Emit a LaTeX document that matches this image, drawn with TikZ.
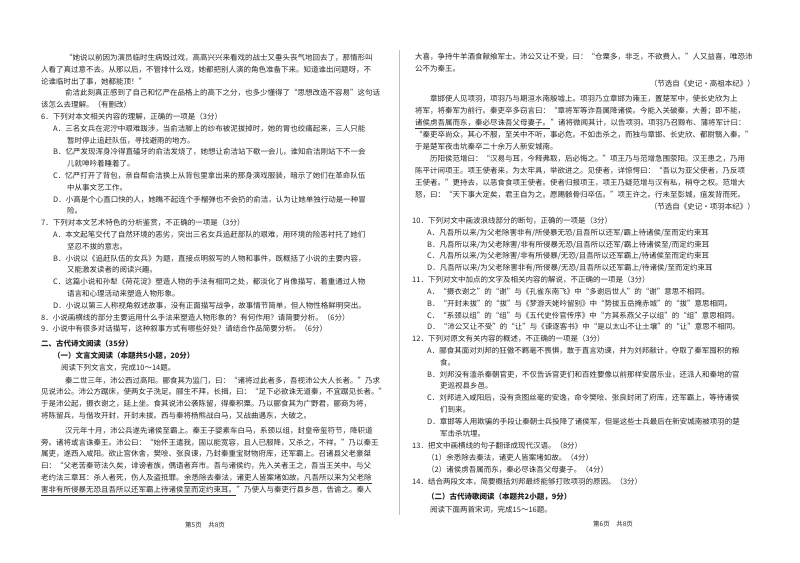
\documentclass[tikz,border=0pt]{standalone}
\usepackage{fontspec}
\setmainfont{Noto Sans CJK SC}
\newcounter{ln}
\tikzset{tx/.style={inner sep=0pt,font=\fontsize{7.5}{8}\selectfont,text height=6.2pt,text depth=1.3pt,text=black!85},
 bx/.style={tx,font=\fontsize{7.5}{8}\selectfont\bfseries},
 ul/.style={black!80,line width=0.5pt}}
\newcommand\tl[3]{\stepcounter{ln}\node[tx,anchor=west] (n\arabic{ln}) at (#1,#2) {#3};}
\newcommand\tb[3]{\stepcounter{ln}\node[bx,anchor=west] (n\arabic{ln}) at (#1,#2) {#3};}
\newcommand\tr[3]{\stepcounter{ln}\node[tx,anchor=east] (n\arabic{ln}) at (#1,#2) {#3};}
\begin{document}
\begin{tikzpicture}[x=1pt,y=-1pt]
\fill[white] (0,0) rectangle (800,562);
\useasboundingbox (0,0) rectangle (800,562);
\draw[black!25,line width=0.6pt] (399,50) -- (399,515);
% left column
\tl{65}{58}{“她说以前因为演员临时生病毁过戏，高高兴兴来看戏的战士又垂头丧气地回去了，那情形叫}
\tl{41}{69.8}{人看了真过意不去。从那以后，不管排什么戏，她都把别人演的角色准备下来。知道谁出问题呀，不}
\tl{41}{81.6}{论谁临时出了事，她都能顶！”}
\tl{65}{93.4}{俞洁此刻真正感到了自己和忆严在品格上的高下之分，也多少懂得了“思想改造不容易”这句话}
\tl{41}{105.2}{该怎么去理解。（有删改）}
\tl{41}{117}{6．下列对本文相关内容的理解，正确的一项是（3分）}
\tl{53}{128.8}{A．三名女兵在泥泞中艰难跋涉，当俞洁脚上的纱布被泥拔掉时，她的胃也绞痛起来，三人只能}
\tl{67}{140.6}{暂时停止追赶队伍，寻找避雨的地方。}
\tl{53}{152.4}{B．忆严发现浑身冷得直磕牙的俞洁发烧了，她想让俞洁站下歇一会儿，谁知俞洁刚站下不一会}
\tl{67}{164.2}{儿就呻吟着睡着了。}
\tl{53}{176}{C．忆严打开了背包，亲自帮俞洁换上从背包里拿出来的那身演戏服装，暗示了她们在革命队伍}
\tl{67}{187.8}{中从事文艺工作。}
\tl{53}{199.6}{D．小高是个心直口快的人，她瞧不起连个手榴弹也不会扔的俞洁，认为让她单独行动是一种冒}
\tl{67}{211.4}{险。}
\tl{41}{223.2}{7．下列对本文艺术特色的分析鉴赏，不正确的一项是（3分）}
\tl{53}{235}{A．本文起笔交代了自然环境的恶劣，突出三名女兵追赶部队的艰难，用环境的险恶衬托了她们}
\tl{67}{246.8}{坚忍不拔的意志。}
\tl{53}{258.6}{B．小说以《追赶队伍的女兵》为题，直接点明叙写的人物和事件，既概括了小说的主要内容，}
\tl{67}{270.4}{又能激发读者的阅读兴趣。}
\tl{53}{282.2}{C．这篇小说和孙犁《荷花淀》塑造人物的手法有相同之处，都淡化了肖像描写，着重通过人物}
\tl{67}{294}{语言和心理活动来塑造人物形象。}
\tl{53}{305.8}{D．小说以第三人称视角叙述故事，没有正面描写战争，故事情节简单，但人物性格鲜明突出。}
\tl{41}{317.6}{8．小说画横线的部分主要运用什么手法来塑造人物形象的？有何作用？请简要分析。（6分）}
\tl{41}{329.4}{9．小说中有很多对话描写，这种叙事方式有哪些好处？请结合作品简要分析。（6分）}
\tb{41}{344.2}{二、古代诗文阅读（35分）}
\tb{53}{356}{（一）文言文阅读（本题共5小题，20分）}
\tl{61}{367.8}{阅读下列文言文，完成10～14题。}
\tl{65}{380.6}{秦二世三年，沛公西过高阳。郦食其为监门，曰：“诸将过此者多，吾视沛公大人长者。”乃求}
\tl{41}{392.4}{见说沛公。沛公方踞床，使两女子洗足。郦生不拜，长揖，曰：“足下必欲诛无道秦，不宜踞见长者。”}
\tl{41}{404.2}{于是沛公起，摄衣谢之，延上坐。食其说沛公袭陈留，得秦积粟。乃以郦食其为广野君，郦商为将，}
\tl{41}{416}{将陈留兵，与偕攻开封，开封未拔。西与秦将杨熊战白马，又战曲遇东，大破之。}
\tl{65}{430.8}{汉元年十月，沛公兵遂先诸侯至霸上。秦王子婴素车白马，系颈以组，封皇帝玺符节，降轵道}
\tl{41}{442.6}{旁。诸将或言诛秦王。沛公曰：“始怀王遣我，固以能宽容，且人已服降，又杀之，不祥。”乃以秦王}
\tl{41}{454.4}{属吏，遂西入咸阳。欲止宫休舍，樊哙、张良谏，乃封秦重宝财物府库，还军霸上。召诸县父老豪桀}
\tl{41}{466.2}{曰：“父老苦秦苛法久矣，诽谤者族，偶语者弃市。吾与诸侯约，先入关者王之，吾当王关中。与父}
\tl{41}{478}{老约法三章耳：杀人者死，伤人及盗抵罪。}
\node[tx,anchor=west] (u1) at (n36.east) {余悉除去秦法，诸吏人皆案堵如故。凡吾所以来为父老除};
\node[tx,anchor=west] (u2) at (41,489.8) {害非有所侵暴无恐且吾所以还军霸上待诸侯至而定约束耳。};
\node[tx,anchor=west] (u2b) at (u2.east) {”乃使人与秦吏行县乡邑，告谕之。秦人};
\draw[ul] ([yshift=-1.2pt]u1.south west) -- ([yshift=-1.2pt]u1.south east);
\draw[ul] ([yshift=-1.2pt]u2.south west) -- ([yshift=-1.2pt]u2.south east);
\node[tx,font=\fontsize{6.5}{7}\selectfont] (f1) at (205,525) {第5页\quad 共8页};
% right column
\tl{415}{57}{大喜，争持牛羊酒食献飨军士。沛公又让不受，曰：“仓粟多，非乏，不欲费人。”人又益喜，唯恐沛}
\tl{415}{69}{公不为秦王。}
\tr{755}{84}{（节选自《史记·高祖本纪》）}
\tl{430}{99}{章邯使人见项羽，项羽乃与期洹水南殷墟上。项羽乃立章邯为雍王，置楚军中，使长史欣为上}
\tl{415}{111}{将军，将秦军为前行。秦吏卒多窃言曰：“章将军等诈吾属降诸侯。今能入关破秦，大善；即不能，}
\node[tx,anchor=west] (u3) at (415,123) {诸侯虏吾属而东，秦必尽诛吾父母妻子。};
\node[tx,anchor=west] (u3b) at (u3.east) {”诸将微闻其计，以告项羽。项羽乃召黥布、蒲将军计曰：};
\draw[ul] ([yshift=-1.2pt]u3.south west) -- ([yshift=-1.2pt]u3.south east);
\tl{415}{135}{“秦吏卒尚众，其心不服，至关中不听，事必危。不如击杀之，而独与章邯、长史欣、都尉翳入秦。”}
\tl{415}{147}{于是楚军夜击坑秦卒二十余万人新安城南。}
\tl{430}{159}{历阳侯范增曰：“汉易与耳，今释弗取，后必悔之。”项王乃与范增急围荥阳。汉王患之，乃用}
\tl{415}{171}{陈平计间项王。项王使者来，为太牢具，举欲进之。见使者，详惊愕曰：“吾以为亚父使者，乃反项}
\tl{415}{183}{王使者。”更持去，以恶食食项王使者。使者归报项王，项王乃疑范增与汉有私，稍夺之权。范增大}
\tl{415}{195}{怒，曰：“天下事大定矣，君王自为之。愿赐骸骨归卒伍。”项王许之。行未至彭城，疽发背而死。}
\tr{755}{207}{（节选自《史记·项羽本纪》）}
\tl{412}{221}{10．下列对文中画波浪线部分的断句，正确的一项是（3分）}
\tl{427}{233}{A．凡吾所以来/为父老除害非有/所侵暴无恐/且吾所以还军/霸上待诸侯/至而定约束耳}
\tl{427}{245}{B．凡吾所以来/为父老除害/非有所侵暴无恐/且吾所以还军/霸上待诸侯至/而定约束耳}
\tl{427}{256}{C．凡吾所以来/为父老除害/非有所侵暴/无恐/且吾所以还军霸上/待诸侯至而定约束耳}
\tl{427}{268}{D．凡吾所以来/为父老除害非有/所侵暴/无恐/且吾所以还军霸上/待诸侯/至而定约束耳}
\tl{412}{280}{11．下列对文中加点的文字及相关内容的解说，不正确的一项是（3分）}
\tl{427}{292}{A．“摄衣谢之”的“谢”与《孔雀东南飞》中“多谢后世人”的“谢”意思不相同。}
\tl{427}{304}{B．“开封未拔”的“拔”与《梦游天姥吟留别》中“势拔五岳掩赤城”的“拔”意思相同。}
\tl{427}{316}{C．“系颈以组”的“组”与《五代史伶官传序》中“方其系燕父子以组”的“组”意思相同。}
\tl{427}{327}{D．“沛公又让不受”的“让”与《谏逐客书》中“是以太山不让土壤”的“让”意思不相同。}
\tl{412}{339}{12．下列对原文有关内容的概述，不正确的一项是（3分）}
\tl{427}{351}{A．郦食其面对刘邦的狂傲不羁毫不畏惧，敢于直言劝谏，并为刘邦献计，夺取了秦军囤积的粮}
\tl{440}{363}{食。}
\tl{427}{375}{B．刘邦没有滥杀秦朝官吏，不仅告诉官吏们和百姓要像以前那样安居乐业，还派人和秦地的官}
\tl{440}{386}{吏巡视县乡邑。}
\tl{427}{398}{C．刘邦进入咸阳后，没有贪图丝毫的安逸，命令樊哙、张良封闭了府库，还军霸上，等待诸侯}
\tl{440}{410}{们到来。}
\tl{427}{422}{D．章邯等人用欺骗的手段让秦朝士兵投降了诸侯军，但是这些士兵最后在新安城南被项羽的楚}
\tl{440}{434}{军击杀坑埋。}
\tl{412}{446}{13．把文中画横线的句子翻译成现代汉语。（8分）}
\tl{427}{458}{（1）余悉除去秦法，诸吏人皆案堵如故。（4分）}
\tl{427}{470}{（2）诸侯虏吾属而东，秦必尽诛吾父母妻子。（4分）}
\tl{412}{482}{14．结合两段文本，简要概括刘邦最终能够打败项羽的原因。（3分）}
\tb{427}{497}{（二）古代诗歌阅读（本题共2小题，9分）}
\tl{430}{510}{阅读下面两首宋词，完成15～16题。}
\node[tx,font=\fontsize{6.5}{7}\selectfont] (f2) at (613,524) {第6页\quad 共8页};
\end{tikzpicture}
\end{document}
